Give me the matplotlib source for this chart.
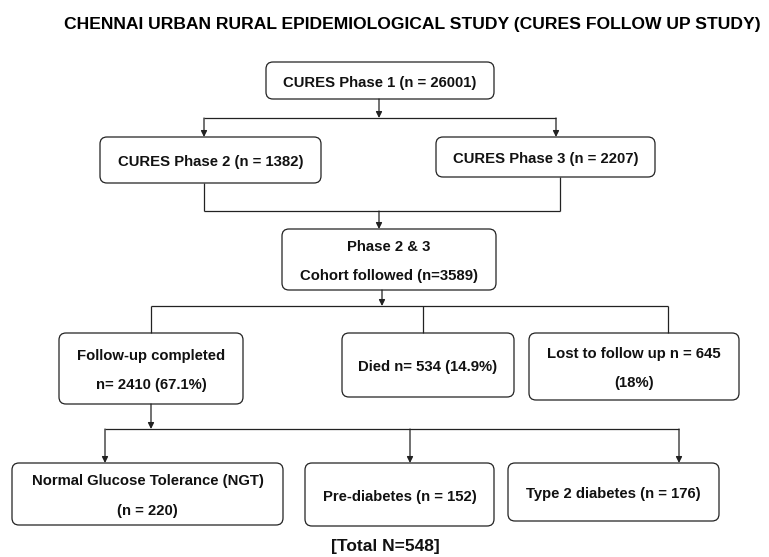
import matplotlib.pyplot as plt
from matplotlib.patches import FancyBboxPatch

# texts of the flowchart
title = "CHENNAI URBAN RURAL EPIDEMIOLOGICAL STUDY (CURES FOLLOW UP STUDY)"
labels = [
    "CURES Phase 1 (n = 26001)",
    "CURES Phase 2 (n = 1382)",
    "CURES Phase 3 (n = 2207)",
    "Phase 2 & 3\n\nCohort followed (n=3589)",
    "Follow-up completed\n\nn= 2410 (67.1%)",
    "Died n= 534 (14.9%)",
    "Lost to follow up n = 645\n\n(18%)",
    "Normal Glucose Tolerance (NGT)\n\n(n = 220)",
    "Pre-diabetes (n = 152)",
    "Type 2 diabetes (n = 176)",
]
footer = "[Total N=548]"

# layout in pixels: x0, y0, x1, y1
boxes = [
    (266, 62, 494, 99),
    (100, 137, 321, 183),
    (436, 137, 655, 177),
    (282, 229, 496, 290),
    (59, 333, 243, 404),
    (342, 333, 514, 397),
    (529, 333, 739, 400),
    (12, 463, 283, 525),
    (305, 463, 494, 526),
    (508, 463, 719, 521),
]

plt.rcParams['font.family'] = ['Liberation Sans', 'DejaVu Sans']

fig = plt.figure(figsize=(7.69, 5.57), dpi=100)
ax = fig.add_axes([0, 0, 1, 1])
ax.set_xlim(0, 769)
ax.set_ylim(557, 0)
ax.axis('off')

ax.text(412, 25, title, ha='center', va='center', fontsize=12.6, fontweight='bold')

ink = '#222222'
lw = 0.9

for (x0, y0, x1, y1), lab in zip(boxes, labels):
    p = FancyBboxPatch((x0, y0), x1 - x0, y1 - y0,
                       boxstyle="round,pad=0,rounding_size=7",
                       fc='white', ec=ink, lw=lw)
    ax.add_patch(p)
    ax.text((x0 + x1) / 2, (y0 + y1) / 2 + 2, lab, ha='center', va='center',
            fontsize=10.7, fontweight='bold', linespacing=1.08, color='#111111')

ax.text(385, 547, footer, ha='center', va='center', fontsize=12.5, fontweight='bold',
        color='#111111')


def line(x, y):
    ax.plot(x, y, color=ink, lw=lw, solid_capstyle='butt')


def arrow(x, y0, y1):
    ax.annotate("", xy=(x, y1), xytext=(x, y0),
                arrowprops=dict(arrowstyle='-|>', color=ink, lw=lw,
                                mutation_scale=9, shrinkA=0, shrinkB=0))


# phase 1 -> phase 2 / 3
arrow(379, 99, 118)
line([204, 556], [118, 118])
arrow(204, 118, 137)
arrow(556, 118, 137)

# phase 2 / 3 -> cohort
line([204, 204], [183, 211])
line([560, 560], [177, 211])
line([204, 560], [211, 211])
arrow(379, 211, 229)

# cohort -> outcomes
arrow(382, 290, 306)
line([151, 668], [306, 306])
line([151, 151], [306, 333])
line([423, 423], [306, 333])
line([668, 668], [306, 333])

# follow-up -> glucose status
arrow(151, 404, 429)
line([105, 679], [429, 429])
arrow(105, 429, 463)
arrow(410, 429, 463)
arrow(679, 429, 463)

fig.savefig("out.png", dpi=100)
